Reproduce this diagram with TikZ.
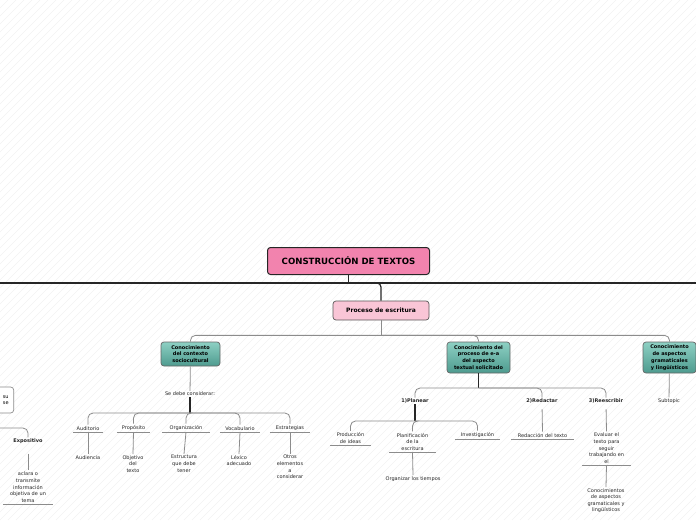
\documentclass[tikz,border=0pt]{standalone}
\usepackage{fontspec}
\setmainfont{DejaVu Sans}
\usetikzlibrary{positioning}
\definecolor{rootpink}{HTML}{F283AE}
\definecolor{procpink}{HTML}{F9C5D6}
\definecolor{tealtop}{HTML}{8DD0C3}
\definecolor{tealbot}{HTML}{4E9B8F}
\definecolor{linegray}{HTML}{8C8C8C}
\newcommand\mapsmall{\fontsize{5}{6.6}\selectfont}
\tikzset{
  rootbox/.style={draw=black!85, line width=1pt, rounded corners=3pt, fill=rootpink,
    font=\bfseries\fontsize{8.6}{9}\selectfont, minimum width=162pt, minimum height=27pt},
  procbox/.style={draw=black!65, line width=0.7pt, rounded corners=3pt, fill=procpink,
    font=\bfseries\fontsize{6}{7}\selectfont, minimum width=96pt, minimum height=19pt},
  tealbox/.style={draw=black!60, line width=0.7pt, rounded corners=3pt, top color=tealtop,
    bottom color=tealbot, font=\bfseries\fontsize{5}{6.8}\selectfont, align=center,
    inner sep=1pt},
  topic/.style={font=\mapsmall, text=black!85, align=center, inner sep=1pt},
  boldtopic/.style={topic, font=\bfseries\mapsmall},
  uleaf/.style={topic, anchor=south, inner ysep=1.5pt},
  mainline/.style={draw=black!85, line width=1.2pt},
  branch/.style={draw=linegray, line width=0.8pt, rounded corners=5pt},
  stem/.style={draw=black!85, line width=1.6pt},
  uline/.style={draw=linegray, line width=0.9pt},
  hatch/.style={draw=black!5, line width=0.4pt}
}
\begin{document}
\begin{tikzpicture}[x=1pt,y=-1pt]
  \useasboundingbox (0,0) rectangle (696,520);
  % background
  \begin{scope}
    \clip (0,0) rectangle (696,520);
    \foreach \i in {-520,-512,...,696}
      \draw[hatch] (\i,520) -- ++(520,-520);
  \end{scope}
  % root and main line
  \node[rootbox] (root) at (348.5,261) {CONSTRUCCIÓN DE TEXTOS};
  \coordinate (lend) at (0,283);
  \coordinate (rend) at (696,283);
  \draw[mainline] (lend) -- (rend);
  \draw[mainline] (root.south) -- (root.south |- lend);
  \node[procbox] (proc) at (381,310.5) {Proceso de escritura};
  \draw[mainline, rounded corners=4pt] (root.south |- lend) -| (proc.north);

  % three subtopics
  \node[tealbox, minimum width=59pt, minimum height=24pt, text width=56pt] (ctx) at (190.5,354) {Conocimiento\\del contexto\\sociocultural};
  \node[tealbox, minimum width=63pt, minimum height=31pt, text width=60pt] (proceso) at (478.5,357.5) {Conocimiento del\\proceso de e-a\\del aspecto\\textual solicitado};
  \node[tealbox, minimum width=53pt, minimum height=31pt, text width=50pt] (gram) at (669.5,357.5) {Conocimiento\\de aspectos\\gramaticales\\y lingüísticos};
  \draw[branch] (proc.south) -- ++(0,15) coordinate (hubA);
  \foreach \n in {ctx,proceso,gram}
    \draw[branch] (hubA) -| (\n.north);

  % contexto sociocultural
  \node[topic] (sdc) at (190,394) {Se debe considerar:};
  \draw[branch] (ctx) -- (sdc);
  \draw[stem] (sdc.south) -- (190,413) coordinate (hubB);
  \node[uleaf, minimum width=30pt] (aud) at (88,432) {Auditorio};
  \node[uleaf, minimum width=33pt] (prop) at (133.5,432) {Propósito};
  \node[uleaf, minimum width=48pt] (orga) at (186,432) {Organización};
  \node[uleaf, minimum width=40pt] (voc) at (240,432) {Vocabulario};
  \node[uleaf, minimum width=40pt] (estr) at (290,432) {Estrategias};
  \foreach \n in {aud,prop,orga,voc,estr}
    \draw[branch] (hubB) -| (\n.north);
  \node[topic, anchor=north] (audi) at (88,454) {Audiencia};
  \node[topic, anchor=north] (obj) at (133,454) {Objetivo\\del\\texto};
  \node[topic, anchor=north] (estru) at (184,454) {Estructura\\que debe\\tener};
  \node[topic, anchor=north] (lex) at (239,454) {Léxico\\adecuado};
  \node[topic, anchor=north] (otros) at (290,454) {Otros\\elementos\\a\\considerar};
  \draw[branch] (aud.south) -- (audi.north);
  \draw[branch] (prop.south) -- (obj.north);
  \draw[branch] (orga.south) -- (estru.north);
  \draw[branch] (voc.south) -- (lex.north);
  \draw[branch] (estr.south) -- (otros.north);

  % proceso de e-a
  \node[boldtopic] (plan) at (415,401) {1)Planear};
  \node[boldtopic] (red) at (542,401) {2)Redactar};
  \node[boldtopic] (rees) at (606,401) {3)Reescribir};
  \draw[stem] (proceso.south) -- (478.5,388) coordinate (hubC);
  \foreach \n in {plan,red,rees}
    \draw[branch] (hubC) -| (\n.north);
  \draw[stem] (plan.south) -- (415,421) coordinate (hubD);
  \node[uleaf, minimum width=41pt] (prod) at (350.5,445) {Producción\\de ideas};
  \node[uleaf, minimum width=47pt] (planif) at (412.5,452) {Planificación\\de la\\escritura};
  \node[uleaf, minimum width=45pt] (inv) at (477.5,439) {Investigación};
  \foreach \n in {prod,planif,inv}
    \draw[branch] (hubD) -| (\n.north);
  \node[topic, anchor=north] (tiempos) at (413,475) {Organizar los tiempos};
  \draw[branch] (planif.south) -- (tiempos.north);
  \node[uleaf, minimum width=63pt] (redac) at (542.5,439) {Redacción del texto};
  \draw[branch, shorten <=5pt] (red.south) -- (redac.north);
  \node[uleaf, minimum width=49pt] (eval) at (606.5,465) {Evaluar el\\texto para\\seguir\\trabajando en\\el};
  \draw[branch, shorten <=5pt] (rees.south) -- (eval.north);
  \node[topic, anchor=north] (conoc) at (606,487) {Conocimientos\\de aspectos\\gramaticales y\\lingüísticos};
  \draw[branch] (eval.south) -- (conoc.north);

  % gramaticales
  \node[topic] (subt) at (669,401) {Subtopic};
  \draw[branch] (gram) -- (subt);

  % left edge, cut off
  \node[draw=linegray, line width=0.7pt, rounded corners=3pt, fill=white, font=\mapsmall,
    align=right, text width=50pt, minimum height=26pt, inner xsep=5pt, anchor=east] (lbox) at (14,400) {su\\se};
  \coordinate (expin) at (0,428);
  \node[boldtopic] (expo) at (28,441) {Expositivo};
  \draw[branch] (expin) -| (expo.north);
  \node[uleaf, minimum width=50pt] (acl) at (28,504) {aclara o\\transmite\\información\\objetiva de un\\tema};
  \draw[branch, shorten <=9pt] (expo.south) -- (acl.north);

  % underlines
  \foreach \n in {aud,prop,orga,voc,estr,prod,planif,inv,redac,eval,acl}
    \draw[uline] (\n.south west) -- (\n.south east);
\end{tikzpicture}
\end{document}
